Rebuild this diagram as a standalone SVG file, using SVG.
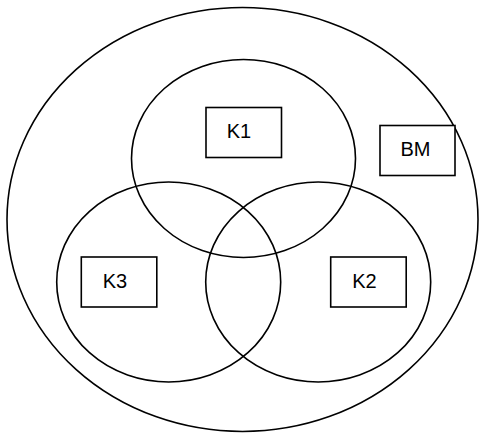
<svg xmlns="http://www.w3.org/2000/svg" width="479" height="433" viewBox="0 0 479 433">
<style>
.e{fill:none;stroke:#000;stroke-width:1.6}
.b{fill:#fff;stroke:#000;stroke-width:1.6}
.t{font-family:"Liberation Sans",Arial,sans-serif;font-size:20px;fill:#000;text-anchor:middle}
</style>
<rect width="479" height="433" fill="#fff"/>
<g id="outer"><ellipse class="e" cx="242.5" cy="219.5" rx="235.5" ry="212"/></g>
<g id="set-k1"><ellipse class="e" cx="243.5" cy="158.5" rx="112" ry="99"/></g>
<g id="set-k3"><ellipse class="e" cx="168.7" cy="282" rx="112" ry="100"/></g>
<g id="set-k2"><ellipse class="e" cx="318.2" cy="282" rx="112.5" ry="100"/></g>
<g id="K1"><rect class="b" x="206" y="107.5" width="75.5" height="50"/><text class="t" x="239" y="137.5">K1</text></g>
<g id="BM"><rect class="b" x="380" y="125.5" width="75" height="50"/><text class="t" x="415.5" y="156">BM</text></g>
<g id="K3"><rect class="b" x="81.3" y="257" width="75.5" height="50"/><text class="t" x="115" y="287.7">K3</text></g>
<g id="K2"><rect class="b" x="330.7" y="257" width="75.5" height="50"/><text class="t" x="364.5" y="287.7">K2</text></g>
<g id="connectors"></g>
</svg>
